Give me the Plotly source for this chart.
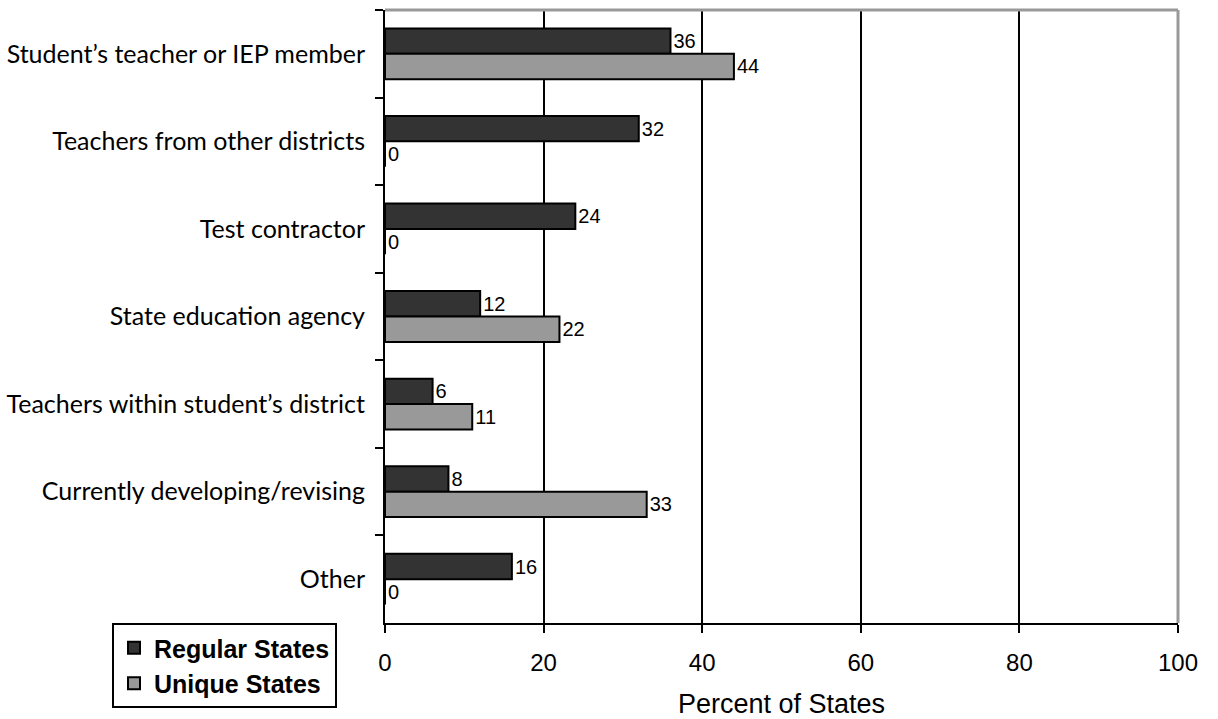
import plotly.graph_objects as go

categories = [
    "Student\u2019s teacher or IEP member",
    "Teachers from other districts",
    "Test contractor",
    "State education agency",
    "Teachers within student\u2019s district",
    "Currently developing/revising",
    "Other",
]
regular_states = [36, 32, 24, 12, 6, 8, 16]
unique_states = [44, 0, 0, 22, 11, 33, 0]
x_ticks = [0, 20, 40, 60, 80, 100]

NUM_FONT = "Liberation Sans, Arial, sans-serif"
CAT_FONT = "Lato, Gill Sans, sans-serif"

fig = go.Figure()
fig.add_trace(go.Bar(
    y=categories, x=regular_states, orientation="h", name="Regular States",
    marker=dict(color="#333333", line=dict(color="black", width=2)),
    text=[str(v) for v in regular_states], textposition="outside",
    constraintext="none",
    textfont=dict(family=NUM_FONT, size=20, color="black"), cliponaxis=False,
))
fig.add_trace(go.Bar(
    y=categories, x=unique_states, orientation="h", name="Unique States",
    marker=dict(color="#999999", line=dict(color="black", width=2)),
    text=[str(v) for v in unique_states], textposition="outside",
    constraintext="none",
    textfont=dict(family=NUM_FONT, size=20, color="black"), cliponaxis=False,
))

fig.update_layout(
    width=1218, height=719,
    margin=dict(l=385, r=40, t=10, b=96, autoexpand=False),
    paper_bgcolor="white", plot_bgcolor="white",
    barmode="group", bargap=0.42, bargroupgap=0,
    font=dict(family=NUM_FONT, size=24, color="black"),
    legend=dict(
        xref="container", yref="container",
        x=112 / 1218, y=1 - 623 / 719, xanchor="left", yanchor="top",
        bordercolor="black", borderwidth=2, bgcolor="white",
        font=dict(family=NUM_FONT, size=25, color="black", weight="bold"),
        itemwidth=30, traceorder="normal",
    ),
    xaxis=dict(
        range=[0, 100], tickvals=x_ticks, ticktext=[str(v) for v in x_ticks],
        ticks="outside", ticklen=8, tickwidth=2, tickcolor="black",
        showline=True, linecolor="black", linewidth=2,
        showgrid=True, gridcolor="black", gridwidth=2, zeroline=False,
        tickfont=dict(family=NUM_FONT, size=24, color="black"),
        ticklabelstandoff=9, automargin=False,
        title=dict(text="Percent of States", standoff=20,
                   font=dict(family=NUM_FONT, size=27, color="black")),
    ),
    yaxis=dict(
        autorange="reversed", tickson="boundaries",
        ticks="outside", ticklen=8, tickwidth=2, tickcolor="black",
        showline=True, linecolor="black", linewidth=2, showgrid=False,
        tickfont=dict(family=CAT_FONT, size=25, color="black"),
        ticklabelstandoff=13, automargin=False,
    ),
)

fig.add_shape(type="line", xref="paper", yref="paper", x0=0, x1=1, y0=1, y1=1,
              line=dict(color="#999999", width=3), layer="above")
fig.add_shape(type="line", xref="paper", yref="paper", x0=1, x1=1, y0=0, y1=1,
              line=dict(color="#999999", width=3), layer="above")

fig.write_html("out.html")
